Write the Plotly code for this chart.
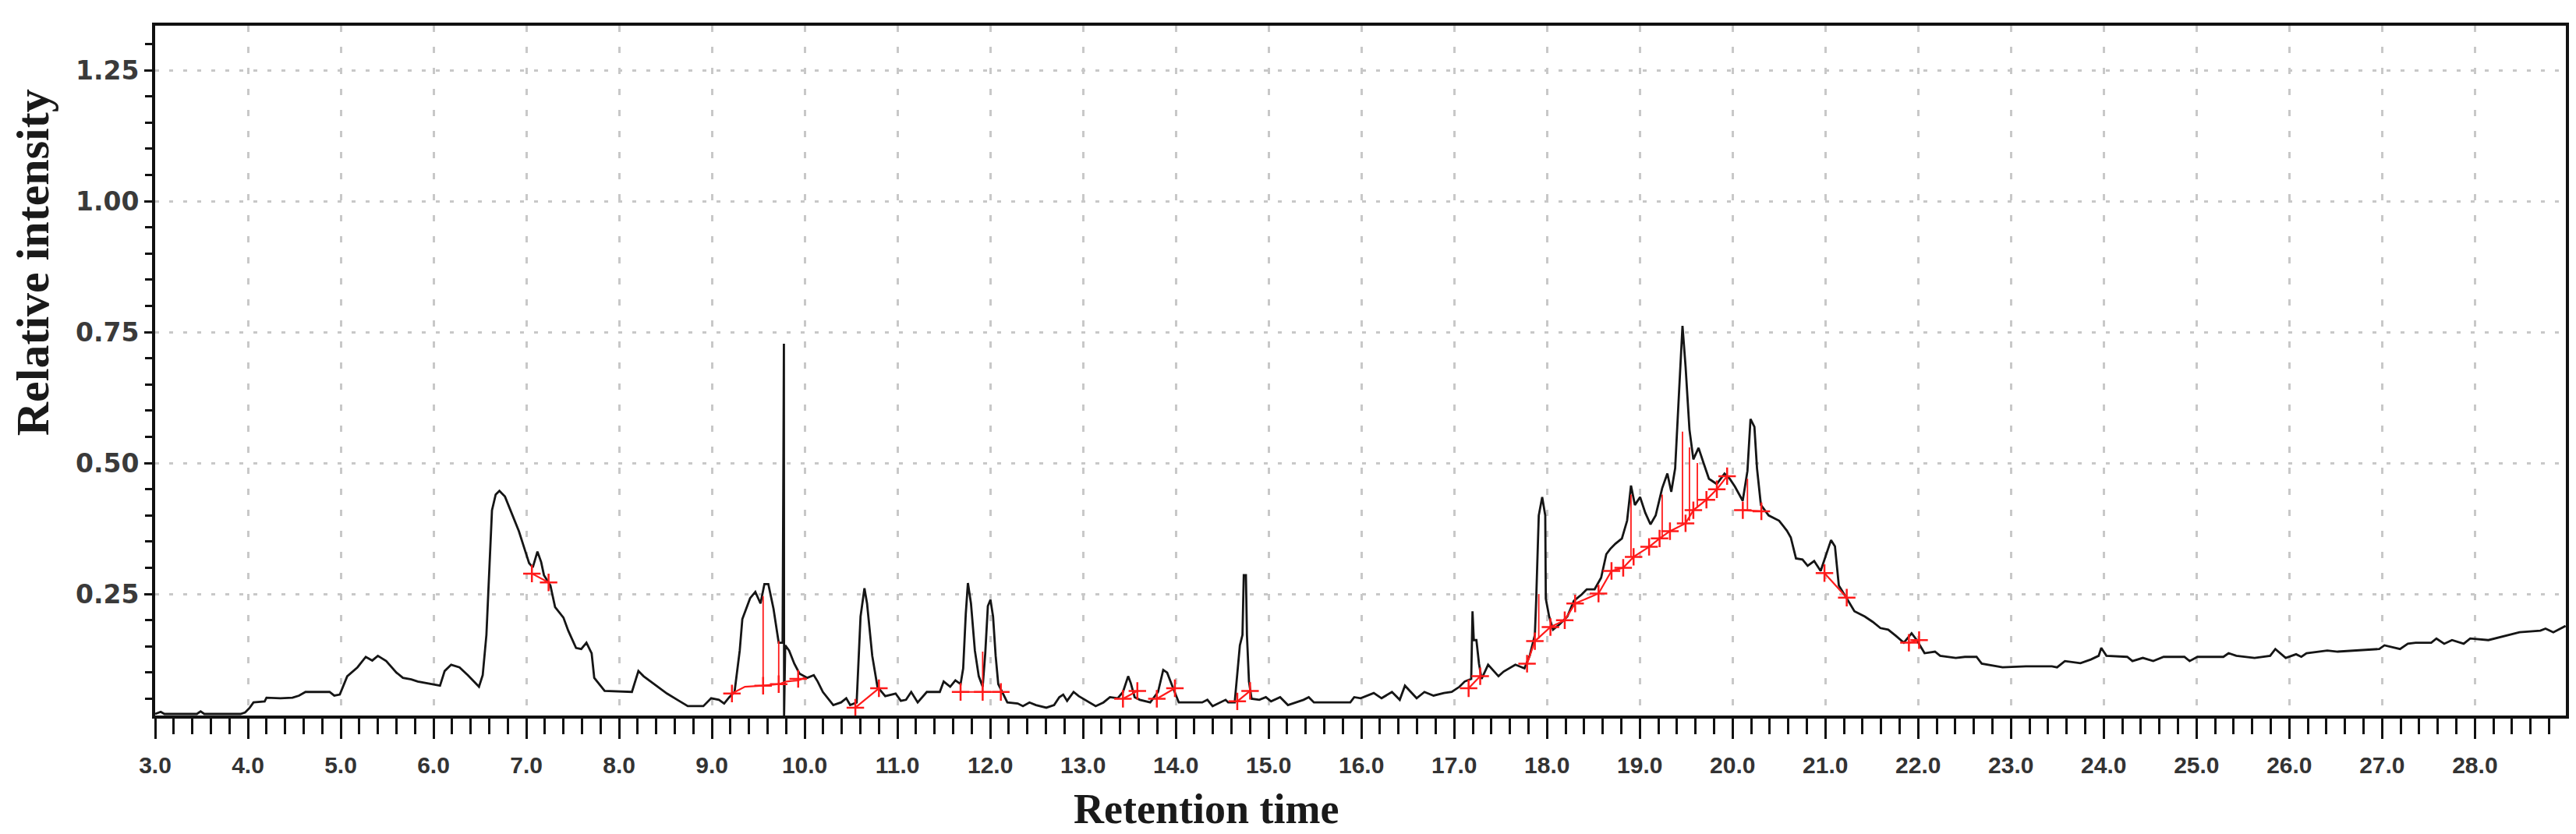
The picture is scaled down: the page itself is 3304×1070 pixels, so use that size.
import plotly.graph_objects as go

# ---------------- data ----------------
retention_time = [
    3.00, 3.06, 3.10, 3.45, 3.49, 3.53, 3.92, 3.97, 4.02, 4.06, 4.18, 4.20, 4.35, 4.48, 4.55, 4.62,
    4.88, 4.93, 4.99, 5.07, 5.18, 5.27, 5.34, 5.40, 5.49, 5.60, 5.67, 5.76, 5.83, 5.97, 6.07, 6.12,
    6.19, 6.28, 6.37, 6.49, 6.53, 6.57, 6.60, 6.63, 6.67, 6.71, 6.77, 6.82, 6.92, 6.99, 7.03, 7.07,
    7.12, 7.16, 7.19, 7.26, 7.31, 7.40, 7.452, 7.536, 7.592, 7.648, 7.704, 7.732, 7.844, 8.138,
    8.208, 8.264, 8.376, 8.516, 8.628, 8.740, 8.908, 8.992, 9.076, 9.132, 9.188, 9.244, 9.300,
    9.328, 9.412, 9.468, 9.524, 9.566, 9.608, 9.664, 9.720, 9.762, 9.776, 9.777, 9.778, 9.790,
    9.832, 9.888, 9.944, 10.028, 10.098, 10.140, 10.196, 10.308, 10.392, 10.448, 10.490, 10.560,
    10.602, 10.644, 10.672, 10.728, 10.784, 10.868, 10.980, 11.036, 11.092, 11.148, 11.218,
    11.316, 11.456, 11.498, 11.568, 11.624, 11.680, 11.708, 11.736, 11.759, 11.792, 11.834,
    11.876, 11.918, 11.946, 11.974, 12.002, 12.030, 12.058, 12.086, 12.128, 12.184, 12.296,
    12.352, 12.422, 12.492, 12.604, 12.688, 12.744, 12.786, 12.828, 12.898, 12.954, 13.024,
    13.136, 13.220, 13.290, 13.374, 13.430, 13.486, 13.514, 13.556, 13.612, 13.724, 13.808,
    13.864, 13.906, 13.976, 14.032, 14.284, 14.340, 14.396, 14.536, 14.564, 14.634, 14.690,
    14.718, 14.732, 14.755, 14.766, 14.788, 14.816, 14.900, 14.970, 15.026, 15.124, 15.208,
    15.376, 15.432, 15.488, 15.880, 15.922, 15.992, 16.133, 16.217, 16.329, 16.413, 16.469,
    16.595, 16.679, 16.777, 16.889, 16.973, 17.057, 17.113, 17.183, 17.197, 17.211, 17.239,
    17.267, 17.295, 17.365, 17.477, 17.533, 17.659, 17.757, 17.813, 17.869, 17.883, 17.911,
    17.948, 17.981, 17.987, 18.023, 18.065, 18.135, 18.219, 18.289, 18.373, 18.429, 18.513,
    18.583, 18.639, 18.681, 18.737, 18.807, 18.863, 18.905, 18.947, 19.003, 19.059, 19.115,
    19.171, 19.241, 19.297, 19.339, 19.381, 19.423, 19.460, 19.493, 19.535, 19.577, 19.633,
    19.689, 19.745, 19.829, 19.913, 19.969, 20.025, 20.109, 20.160, 20.193, 20.235, 20.263,
    20.305, 20.389, 20.501, 20.585, 20.627, 20.683, 20.753, 20.809, 20.879, 20.949, 21.019,
    21.061, 21.103, 21.145, 21.229, 21.313, 21.425, 21.509, 21.593, 21.677, 21.761, 21.845,
    21.929, 21.985, 22.069, 22.181, 22.237, 22.405, 22.503, 22.629, 22.685, 22.909, 23.161,
    23.441, 23.497, 23.581, 23.749, 23.861, 23.945, 23.973, 24.029, 24.253, 24.309, 24.421,
    24.533, 24.645, 24.869, 24.925, 25.009, 25.289, 25.345, 25.429, 25.625, 25.793, 25.849,
    25.961, 26.073, 26.129, 26.185, 26.409, 26.521, 26.745, 26.969, 27.025, 27.193, 27.277,
    27.361, 27.529, 27.585, 27.669, 27.753, 27.879, 27.949, 28.145, 28.257, 28.481, 28.705,
    28.761, 28.845, 28.977,
]
relative_intensity = [
    0.021, 0.025, 0.021, 0.021, 0.026, 0.021, 0.021, 0.024, 0.033, 0.043, 0.045, 0.052, 0.051, 0.052, 0.056, 0.063,
    0.063, 0.056, 0.058, 0.093, 0.110, 0.130, 0.123, 0.132, 0.122, 0.100, 0.090, 0.087, 0.083, 0.078, 0.075, 0.103,
    0.115, 0.110, 0.095, 0.073, 0.095, 0.172, 0.281, 0.410, 0.440, 0.447, 0.436, 0.413, 0.370, 0.331, 0.309, 0.301,
    0.331, 0.311, 0.286, 0.266, 0.225, 0.205, 0.180, 0.147, 0.145, 0.157, 0.137, 0.090, 0.065, 0.063,
    0.103, 0.093, 0.078, 0.060, 0.048, 0.036, 0.036, 0.051, 0.048, 0.041, 0.053, 0.063, 0.142,
    0.202, 0.242, 0.254, 0.232, 0.269, 0.269, 0.222, 0.157, 0.157, 0.728, 0.018, 0.018, 0.152,
    0.142, 0.117, 0.098, 0.090, 0.095, 0.083, 0.063, 0.038, 0.043, 0.051, 0.038, 0.043,
    0.207, 0.261, 0.232, 0.132, 0.073, 0.055, 0.060, 0.046, 0.048, 0.063, 0.043,
    0.063, 0.063, 0.083, 0.073, 0.085, 0.078, 0.108, 0.212, 0.271, 0.232, 0.142,
    0.093, 0.073, 0.137, 0.227, 0.239, 0.207, 0.132, 0.078, 0.063, 0.043, 0.041,
    0.036, 0.043, 0.038, 0.033, 0.038, 0.053, 0.058, 0.046, 0.063, 0.055, 0.048,
    0.036, 0.043, 0.053, 0.051, 0.063, 0.093, 0.080, 0.053, 0.048, 0.043, 0.063,
    0.105, 0.100, 0.068, 0.043, 0.043, 0.048, 0.036, 0.048, 0.043, 0.043, 0.152,
    0.172, 0.286, 0.286, 0.172, 0.083, 0.050, 0.048, 0.053, 0.045, 0.053, 0.038,
    0.048, 0.053, 0.043, 0.043, 0.053, 0.051, 0.061, 0.051, 0.063, 0.048, 0.075,
    0.051, 0.063, 0.056, 0.061, 0.063, 0.073, 0.083, 0.088, 0.217, 0.162, 0.162,
    0.117, 0.088, 0.115, 0.093, 0.102, 0.115, 0.108, 0.132, 0.172, 0.237, 0.400,
    0.435, 0.400, 0.241, 0.207, 0.182, 0.192, 0.207, 0.237, 0.249, 0.259, 0.259,
    0.281, 0.326, 0.336, 0.346, 0.356, 0.390, 0.457, 0.420, 0.435, 0.405, 0.383,
    0.400, 0.452, 0.480, 0.445, 0.490, 0.636, 0.762, 0.685, 0.564, 0.507, 0.529,
    0.499, 0.470, 0.460, 0.480, 0.470, 0.455, 0.428, 0.485, 0.584, 0.569, 0.490,
    0.420, 0.400, 0.390, 0.371, 0.358, 0.318, 0.316, 0.304, 0.313, 0.294, 0.331,
    0.353, 0.341, 0.266, 0.242, 0.217, 0.207, 0.197, 0.185, 0.182, 0.170, 0.157,
    0.175, 0.162, 0.137, 0.140, 0.132, 0.128, 0.130, 0.130, 0.117, 0.110, 0.112,
    0.112, 0.110, 0.122, 0.118, 0.125, 0.132, 0.147, 0.132, 0.130, 0.122, 0.128,
    0.122, 0.130, 0.130, 0.122, 0.130, 0.130, 0.137, 0.132, 0.128, 0.132, 0.145,
    0.128, 0.135, 0.130, 0.137, 0.142, 0.140, 0.142, 0.145, 0.152, 0.145, 0.155,
    0.157, 0.157, 0.165, 0.155, 0.162, 0.155, 0.165, 0.162, 0.167, 0.177, 0.180,
    0.184, 0.177, 0.189,
]

# integration baselines (red), segments separated by None
baseline_time = [
    7.06, 7.24, None,
    9.216, 9.356, 9.552, 9.720, 9.804, 9.930, 10.00, None,
    10.546, 10.80, None,
    11.68, 11.918, 12.114, None,
    13.43, 13.585, None,
    13.795, 13.99, None,
    14.662, 14.80, None,
    17.155, 17.28, None,
    17.785, 17.869, 18.037, 18.191, 18.303, 18.555, 18.695, 18.821, 18.933, 19.10,
    19.213, 19.325, 19.493, 19.577, 19.718, 19.83, 19.941, None,
    20.11, 20.31, None,
    20.99, 21.23, None,
    21.90, 22.01,
]
baseline_intensity = [
    0.289, 0.272, None,
    0.060, 0.073, 0.075, 0.078, 0.083, 0.085, 0.090, None,
    0.033, 0.070, None,
    0.063, 0.063, 0.063, None,
    0.050, 0.065, None,
    0.050, 0.070, None,
    0.045, 0.065, None,
    0.070, 0.093, None,
    0.117, 0.160, 0.187, 0.200, 0.232, 0.251, 0.294, 0.300, 0.321, 0.340,
    0.356, 0.370, 0.385, 0.410, 0.430, 0.450, 0.475, None,
    0.410, 0.408, None,
    0.290, 0.243, None,
    0.157, 0.162,
]

# peak marks (red crosses)
mark_time = [7.06, 7.24, 9.216, 9.552, 9.720, 9.930, 10.546, 10.80, 11.68, 11.918, 12.114,
             13.43, 13.585, 13.795, 13.99, 14.662, 14.80, 17.155, 17.28, 17.785, 17.869,
             18.037, 18.191, 18.303, 18.555, 18.695, 18.821, 18.933, 19.10, 19.213, 19.325,
             19.493, 19.577, 19.718, 19.83, 19.941, 20.11, 20.31, 20.99, 21.23, 21.90, 22.01]
mark_intensity = [0.289, 0.272, 0.060, 0.075, 0.078, 0.088, 0.033, 0.070, 0.063, 0.063, 0.063,
                  0.050, 0.065, 0.050, 0.070, 0.045, 0.065, 0.070, 0.093, 0.117, 0.160,
                  0.187, 0.200, 0.232, 0.251, 0.294, 0.300, 0.321, 0.340, 0.356, 0.370,
                  0.385, 0.410, 0.430, 0.450, 0.475, 0.410, 0.408, 0.290, 0.243, 0.157, 0.162]

# peak drop lines (red verticals), pairs separated by None
drop_time = [9.552, 9.552, None, 9.720, 9.720, None, 11.918, 11.918, None,
             17.911, 17.911, None, 18.905, 18.905, None, 19.241, 19.241, None,
             19.46, 19.46, None, 19.535, 19.535, None, 19.62, 19.62, None, 20.16, 20.16]
drop_intensity = [0.075, 0.246, None, 0.078, 0.160, None, 0.063, 0.140, None,
                  0.165, 0.250, None, 0.320, 0.440, None, 0.356, 0.440, None,
                  0.385, 0.560, None, 0.390, 0.530, None, 0.415, 0.500, None, 0.410, 0.470]

x_title = "Retention time"
y_title = "Relative intensity"

# ---------------- figure ----------------
fig = go.Figure()
fig.add_trace(go.Scatter(x=retention_time, y=relative_intensity, mode="lines",
                         line=dict(color="#151515", width=2.8), hoverinfo="skip"))
fig.add_trace(go.Scatter(x=baseline_time, y=baseline_intensity, mode="lines",
                         line=dict(color="#ff1a1a", width=2.2), connectgaps=False, hoverinfo="skip"))
fig.add_trace(go.Scatter(x=drop_time, y=drop_intensity, mode="lines",
                         line=dict(color="#ff1a1a", width=1.8), connectgaps=False, hoverinfo="skip"))
fig.add_trace(go.Scatter(x=mark_time, y=mark_intensity, mode="markers",
                         marker=dict(symbol="cross-thin", size=16, color="#ff1a1a",
                                     line=dict(color="#ff1a1a", width=2.5)), hoverinfo="skip"))

grid_col = "#c8c8c8"
fig.update_xaxes(
    range=[3.0, 28.98], tickmode="linear", tick0=3.0, dtick=1.0, tickformat=".1f",
    ticks="outside", ticklen=26, tickwidth=3, tickcolor="#111",
    showline=True, linewidth=4, linecolor="#111", mirror=True,
    showgrid=True, gridcolor=grid_col, gridwidth=3, griddash="8px,19px",
    zeroline=False,
    minor=dict(dtick=0.2, ticks="outside", ticklen=20, tickwidth=2.5, tickcolor="#111", showgrid=False),
    tickfont=dict(family="Liberation Sans", size=30, color="#333333", weight="bold"),
    ticklabelstandoff=8,
)
fig.update_yaxes(
    range=[0.018, 1.335], tickmode="linear", tick0=0.25, dtick=0.25, tickformat=".2f",
    ticks="outside", ticklen=10, tickwidth=3, tickcolor="#111",
    showline=True, linewidth=4, linecolor="#111", mirror=True,
    showgrid=True, gridcolor=grid_col, gridwidth=3, griddash="5px,13px",
    zeroline=False,
    minor=dict(dtick=0.05, ticks="outside", ticklen=9, tickwidth=2.5, tickcolor="#111", showgrid=False),
    tickfont=dict(family="DejaVu Sans", size=33, color="#3a3a3a", weight="bold"),
)

fig.update_layout(
    width=3304, height=1070,
    margin=dict(l=191, r=21, t=25, b=160),
    plot_bgcolor="white", paper_bgcolor="white",
    showlegend=False,
    annotations=[
        dict(text="<b>" + x_title + "</b>", xref="x", yref="paper", x=14.33, y=-0.136,
             xanchor="center", yanchor="middle", showarrow=False,
             font=dict(family="Liberation Serif", size=54, color="#1a1a1a")),
        dict(text="<b>" + y_title + "</b>", xref="paper", yref="paper", x=-0.0507, y=0.6565,
             xanchor="center", yanchor="middle", showarrow=False, textangle=-90,
             font=dict(family="Liberation Serif", size=60, color="#1a1a1a")),
    ],
)

fig.write_html("out.html")
